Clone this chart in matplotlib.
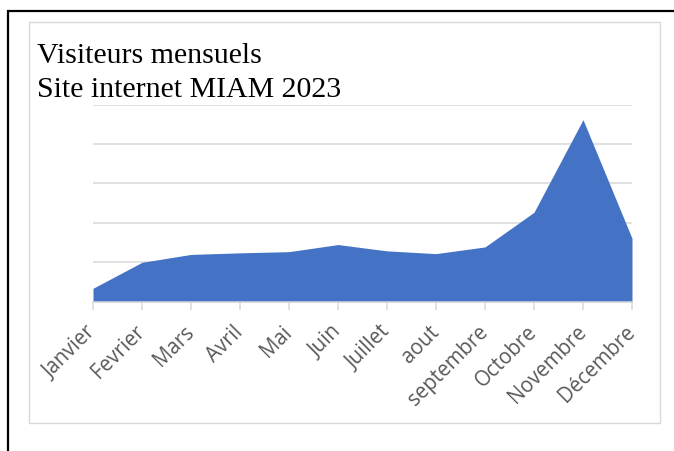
import matplotlib
matplotlib.use("Agg")
import matplotlib.pyplot as plt
from matplotlib.patches import Rectangle

# Data (visitors per month)
mois = ["Janvier", "Fevrier", "Mars", "Avril", "Mai", "Juin", "Juillet",
        "aout", "septembre", "Octobre", "Novembre", "Décembre"]
visiteurs = [340, 1000, 1200, 1240, 1270, 1450, 1290, 1220, 1390, 2270, 4620, 1610]
grille = [0, 1000, 2000, 3000, 4000, 5000]

W, H = 674, 452
fig = plt.figure(figsize=(W / 100, H / 100), dpi=100)

# outer black frame (cut off at right and bottom) and light gray chart frame
fig.patches.append(Rectangle((8 / W, -0.1), 1.2, 1 - 11.5 / H + 0.1,
                             transform=fig.transFigure, fill=False,
                             edgecolor="black", linewidth=1.6))
fig.patches.append(Rectangle((28.5 / W, 1 - 424 / H), (660 - 28.5) / W, (424 - 22.5) / H,
                             transform=fig.transFigure, fill=False,
                             edgecolor="#d9d9d9", linewidth=1.0))

ax = fig.add_axes([93 / W, 1 - 302.7 / H, (632 - 93) / W, (302.7 - 105.7) / H])
x = list(range(len(mois)))
ax.fill_between(x, 0, visiteurs, color="#4472C4", linewidth=0, zorder=2)

ax.set_xlim(0, len(mois) - 1)
ax.set_ylim(0, 5000)
ax.set_yticks(grille)
ax.yaxis.grid(True, color="#d9d9d9", linewidth=1.1, zorder=0)
ax.set_axisbelow(True)
ax.tick_params(axis="y", left=False, labelleft=False)

for s in ["top", "right", "left"]:
    ax.spines[s].set_visible(False)
ax.spines["bottom"].set_color("#d9d9d9")
ax.spines["bottom"].set_linewidth(1.1)
ax.spines["bottom"].set_zorder(3)

ax.set_xticks(x)
ax.set_xticklabels(mois, rotation=45, ha="right", va="center",
                   rotation_mode="anchor", family="Open Sans",
                   fontsize=14.8, color="#595959")
ax.tick_params(axis="x", length=6, width=1.1, color="#d9d9d9", pad=13)

fig.text(37 / W, 1 - 63 / H, "Visiteurs mensuels", family="Liberation Serif",
         fontsize=21.5, color="black", va="baseline")
fig.text(37 / W, 1 - 97 / H, "Site internet MIAM 2023", family="Liberation Serif",
         fontsize=21.5, color="black", va="baseline")

fig.savefig("out.png", dpi=100)
